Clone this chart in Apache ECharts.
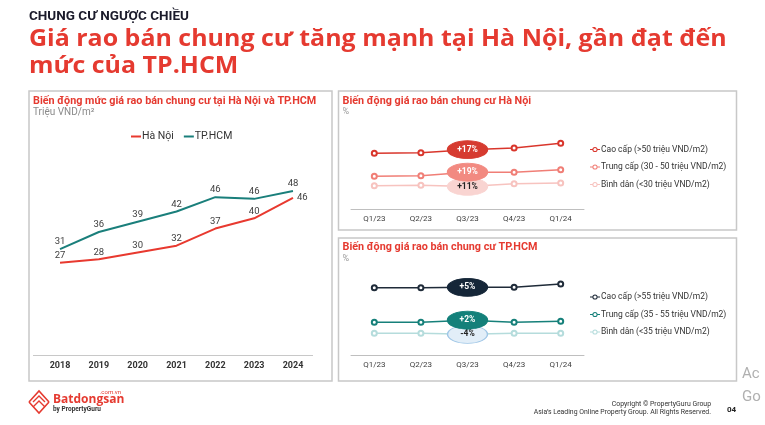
<!DOCTYPE html>
<html><head><meta charset="utf-8">
<script src="https://cdn.jsdelivr.net/npm/echarts@6/dist/echarts.min.js"></script>
<style>html,body{margin:0;padding:0;background:#fff}#c{width:765px;height:425px}</style>
</head><body><div id="c"></div>
<script>
// ---- data ----
var years = ['2018','2019','2020','2021','2022','2023','2024'];
var hanoiPrice = [27, 28, 30, 32, 37, 40, 46];
var hcmPrice = [31, 36, 39, 42, 46.2, 45.7, 48];
var quarters = ['Q1/23','Q2/23','Q3/23','Q4/23','Q1/24'];
// relative levels (no scale shown)
var hnCao = [56.4, 57, 60, 61.7, 66.4];
var hnTrung = [33.4, 34, 37.5, 37.4, 40];
var hnBinh = [24, 24.4, 23.2, 26, 26.7];
var hcmCao = [68, 68, 68.4, 68.4, 71.7];
var hcmTrung = [33.4, 33.4, 35.5, 33.4, 34.4];
var hcmBinh = [22.4, 22.4, 21.4, 22.4, 22.4];
var hnBadges = ['+17%', '+19%', '+11%'];
var hcmBadges = ['+5%', '+2%', '-4%'];
var hnNames = ['Cao cấp (>50 triệu VND/m2)', 'Trung cấp (30 - 50 triệu VND/m2)', 'Bình dân (<30 triệu VND/m2)'];
var hcmNames = ['Cao cấp (>55 triệu VND/m2)', 'Trung cấp (35 - 55 triệu VND/m2)', 'Bình dân (<35 triệu VND/m2)'];
var badgeIndex = 2;

var F = 'Roboto, "Noto Sans", sans-serif';
// line + ring legend icon
var lineRingIcon = 'path://M0,4.5L3,4.5L3,5.5L0,5.5Z M7,4.5L10,4.5L10,5.5L7,5.5Z ' +
  'M5,2.4A2.6,2.6,0,1,1,4.99,2.4Z M5,3.4A1.6,1.6,0,1,0,5.01,3.4Z';

function seg(data, badge, color, badgeFill, badgeText, badgeBorder, xi, yi, name, z) {
  var d = data.map(function (v, i) {
    if (i !== badgeIndex) return v;
    return {
      value: v, symbol: 'circle', symbolSize: [40, 18],
      itemStyle: { color: badgeFill, borderColor: badgeBorder || badgeFill, borderWidth: 1 },
      label: { show: true, position: 'inside', formatter: badge, color: badgeText, fontWeight: 'bold', fontSize: 8.5, fontFamily: F }
    };
  });
  return {
    type: 'line', name: name, xAxisIndex: xi, yAxisIndex: yi, data: d, z: z,
    symbol: 'emptyCircle', symbolSize: 5, showAllSymbol: true,
    lineStyle: { color: color, width: 1.5 },
    itemStyle: { color: color, borderColor: color, borderWidth: 1.2 },
    emphasis: { disabled: true }, silent: true
  };
}

function txt(t, x, y, font, fill, align, sx) {
  return { type: 'text', x: x, y: y, scaleX: sx || 1, silent: true,
    style: { text: t, font: font, fill: fill, textAlign: align || 'left', textVerticalAlign: 'middle' } };
}

var chart = echarts.init(document.getElementById('c'), null, { renderer: 'canvas' });

var qAxis = function (gi) {
  return { type: 'category', gridIndex: gi, data: quarters, boundaryGap: true,
    axisLine: { show: true, lineStyle: { color: '#bfbfbf', width: 1 } }, axisTick: { show: false },
    axisLabel: { color: '#404040', fontSize: 8, fontFamily: F, margin: 5 } };
};
var hidY = function (gi, max) {
  return { type: 'value', gridIndex: gi, min: 0, max: max, show: false, splitLine: { show: false } };
};
var legendCommon = {
  orient: 'vertical', padding: 0, itemWidth: 10, itemHeight: 10, itemGap: 8.5, icon: lineRingIcon,
  itemStyle: { borderWidth: 0 },
  textStyle: { color: '#333', fontSize: 8.5, fontFamily: F, padding: [0, 0, 0, -4] }, selectedMode: false
};
var labelFmt = function (p) { return Math.round(p.value); };

var option = {
  animation: false,
  grid: [
    { left: 40.6, right: 765 - 312.4, top: 150, bottom: 425 - 355 },
    { left: 351, right: 765 - 584, top: 109.7, bottom: 425 - 209.7 },
    { left: 351, right: 765 - 584, top: 255.7, bottom: 425 - 355.7 }
  ],
  xAxis: [
    { type: 'category', gridIndex: 0, data: years, boundaryGap: true,
      axisLine: { show: false }, axisTick: { show: false },
      axisLabel: { color: '#333', fontSize: 9, fontWeight: 'bold', fontFamily: F, margin: 6 } },
    qAxis(1), qAxis(2)
  ],
  yAxis: [hidY(0, 60), hidY(1, 100), hidY(2, 100)],
  legend: [
    { data: ['Hà Nội', 'TP.HCM'], left: 131, top: 131, padding: 0, itemWidth: 10, itemHeight: 2, itemGap: 10,
      icon: 'rect', selectedMode: false, textStyle: { color: '#333', fontSize: 10.5, fontFamily: F, padding: [0, 0, 0, -4] } },
    Object.assign({}, legendCommon, { data: hnNames, left: 590, top: 145 }),
    Object.assign({}, legendCommon, { data: hcmNames, left: 590, top: 292.5 })
  ],
  series: [
    { type: 'line', name: 'Hà Nội', xAxisIndex: 0, yAxisIndex: 0, symbol: 'circle', symbolSize: 0.1,
      data: hanoiPrice.map(function (v, i) { return i === hanoiPrice.length - 1 ? { value: v, label: { position: 'right', distance: 4 } } : v; }),
      lineStyle: { color: '#e8392f', width: 2 }, itemStyle: { color: '#e8392f' }, silent: true,
      label: { show: true, position: 'top', distance: 2, color: '#404040', fontSize: 9.5, fontFamily: F, formatter: labelFmt } },
    { type: 'line', name: 'TP.HCM', xAxisIndex: 0, yAxisIndex: 0, data: hcmPrice, symbol: 'circle', symbolSize: 0.1,
      lineStyle: { color: '#1a7f7b', width: 2 }, itemStyle: { color: '#1a7f7b' }, silent: true,
      label: { show: true, position: 'top', distance: 2, color: '#404040', fontSize: 9.5, fontFamily: F, formatter: labelFmt } },
    seg(hnBinh, hnBadges[2], '#f7c3bf', '#f9d4d1', '#222', null, 1, 1, hnNames[2], 2),
    seg(hnTrung, hnBadges[1], '#f07e76', '#f28a81', '#fff', null, 1, 1, hnNames[1], 3),
    seg(hnCao, hnBadges[0], '#d9362c', '#d63b30', '#fff', null, 1, 1, hnNames[0], 4),
    seg(hcmBinh, hcmBadges[2], '#b5dcdc', '#e2eef8', '#222', '#9fc6e6', 2, 2, hcmNames[2], 2),
    seg(hcmTrung, hcmBadges[1], '#16807a', '#13807a', '#fff', null, 2, 2, hcmNames[1], 3),
    seg(hcmCao, hcmBadges[0], '#1f2b39', '#152638', '#fff', null, 2, 2, hcmNames[0], 4)
  ],
  graphic: [
    { type: 'rect', shape: { x: 29, y: 91, width: 303, height: 290 }, style: { fill: 'none', stroke: '#c8c8c8', lineWidth: 1.5 }, silent: true },
    { type: 'rect', shape: { x: 338.5, y: 91, width: 398, height: 139 }, style: { fill: 'none', stroke: '#c8c8c8', lineWidth: 1.5 }, silent: true },
    { type: 'rect', shape: { x: 338.5, y: 238, width: 398, height: 143 }, style: { fill: 'none', stroke: '#c8c8c8', lineWidth: 1.5 }, silent: true },
    { type: 'line', shape: { x1: 33, y1: 355.5, x2: 313, y2: 355.5 }, style: { stroke: '#c8c8c8', lineWidth: 1 }, silent: true },
    txt('CHUNG CƯ NGƯỢC CHIỀU', 29, 17, 'bold 13.5px ' + F, '#1b1b2b'),
    txt('Giá rao bán chung cư tăng mạnh tại Hà Nội, gần đạt đến', 29, 39, 'bold 23.5px "Open Sans", sans-serif', '#e53a30', 'left', 1.062),
    txt('mức của TP.HCM', 29, 66, 'bold 23.5px "Open Sans", sans-serif', '#e53a30', 'left', 1.062),
    txt('Biến động mức giá rao bán chung cư tại Hà Nội và TP.HCM', 33, 101, 'bold 10.8px ' + F, '#e53a30'),
    txt('Triệu VND/m²', 33, 112.5, '10px ' + F, '#8a8a8a'),
    txt('Biến động giá rao bán chung cư Hà Nội', 342.5, 101, 'bold 10.8px ' + F, '#e53a30'),
    txt('%', 342.5, 112, '9px ' + F, '#9a9a9a'),
    txt('Biến động giá rao bán chung cư TP.HCM', 342.5, 247, 'bold 10.8px ' + F, '#e53a30'),
    txt('%', 342.5, 259, '9px ' + F, '#9a9a9a'),
    // logo
    { type: 'polyline', shape: { points: [[29, 402], [39, 391], [49, 402]] }, style: { fill: 'none', stroke: '#e53a30', lineWidth: 1.6 }, silent: true },
    { type: 'polyline', shape: { points: [[29, 402], [39, 413], [49, 402]] }, style: { fill: 'none', stroke: '#e53a30', lineWidth: 1.6 }, silent: true },
    { type: 'polyline', shape: { points: [[33, 402], [39, 396], [45, 402]] }, style: { fill: 'none', stroke: '#e53a30', lineWidth: 1.4 }, silent: true },
    { type: 'polyline', shape: { points: [[33, 407], [39, 401], [45, 407]] }, style: { fill: 'none', stroke: '#e53a30', lineWidth: 1.4 }, silent: true },
    txt('Batdongsan', 53, 400, 'bold 12px "Open Sans", sans-serif', '#e53a30'),
    txt('.com.vn', 121, 392, '6px ' + F, '#e53a30', 'right'),
    txt('by PropertyGuru', 53, 409.5, 'bold 6.5px ' + F, '#333'),
    txt('Copyright © PropertyGuru Group', 711, 404, '6.9px ' + F, '#333', 'right'),
    txt('Asia\u2019s Leading Online Property Group. All Rights Reserved.', 711, 412.5, '6.9px ' + F, '#333', 'right'),
    txt('04', 727, 409.5, 'bold 8px ' + F, '#222'),
    txt('Ac', 742, 374, '15px ' + F, '#b0b0b0'),
    txt('Go', 742, 397, '15px ' + F, '#b0b0b0')
  ]
};
chart.setOption(option);
</script></body></html>
